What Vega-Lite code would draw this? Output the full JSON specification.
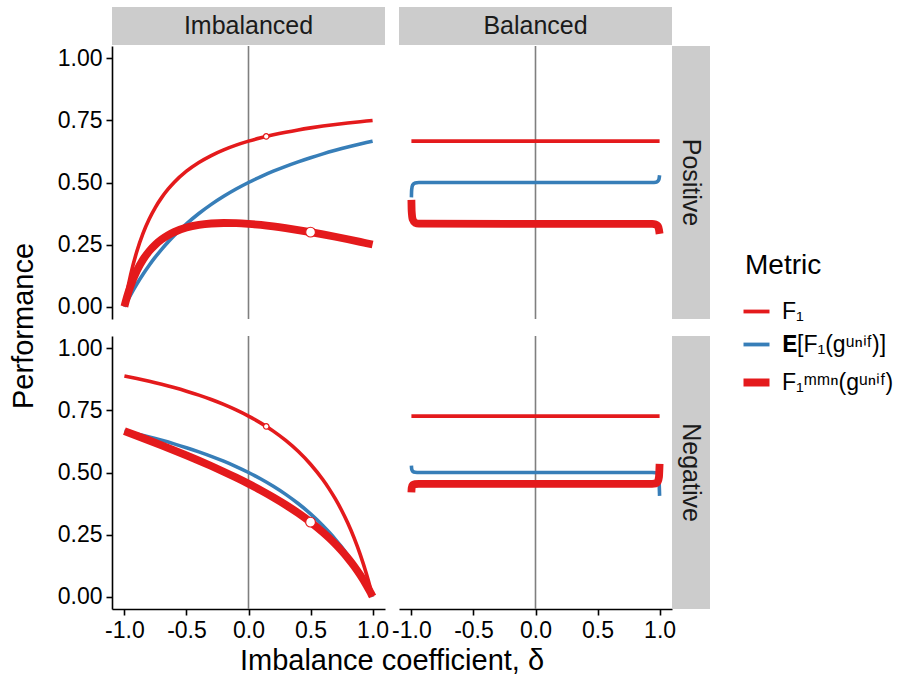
{
"$schema": "https://vega.github.io/schema/vega-lite/v6.json",
"padding": {"left": 5, "top": 7, "right": 5, "bottom": 5},
"background": "white",
"datasets": {
"imb_pos": [
{"d":-1,"m":"F1","v":0},{"d":-1,"m":"E_F1_unif","v":0},{"d":-1,"m":"F1_mmn_unif","v":0},
{"d":-0.99,"m":"F1","v":0.029},{"d":-0.99,"m":"E_F1_unif","v":0.0099},{"d":-0.99,"m":"F1_mmn_unif","v":0.0193},
{"d":-0.98,"m":"F1","v":0.0561},{"d":-0.98,"m":"E_F1_unif","v":0.0196},{"d":-0.98,"m":"F1_mmn_unif","v":0.0372},
{"d":-0.95,"m":"F1","v":0.1277},{"d":-0.95,"m":"E_F1_unif","v":0.0476},{"d":-0.95,"m":"F1_mmn_unif","v":0.084},
{"d":-0.9,"m":"F1","v":0.2222},{"d":-0.9,"m":"E_F1_unif","v":0.0909},{"d":-0.9,"m":"F1_mmn_unif","v":0.1444},
{"d":-0.85,"m":"F1","v":0.2951},{"d":-0.85,"m":"E_F1_unif","v":0.1304},{"d":-0.85,"m":"F1_mmn_unif","v":0.1893},
{"d":-0.8,"m":"F1","v":0.3529},{"d":-0.8,"m":"E_F1_unif","v":0.1667},{"d":-0.8,"m":"F1_mmn_unif","v":0.2235},
{"d":-0.75,"m":"F1","v":0.4},{"d":-0.75,"m":"E_F1_unif","v":0.2},{"d":-0.75,"m":"F1_mmn_unif","v":0.25},
{"d":-0.7,"m":"F1","v":0.439},{"d":-0.7,"m":"E_F1_unif","v":0.2308},{"d":-0.7,"m":"F1_mmn_unif","v":0.2707},
{"d":-0.65,"m":"F1","v":0.4719},{"d":-0.65,"m":"E_F1_unif","v":0.2593},{"d":-0.65,"m":"F1_mmn_unif","v":0.287},
{"d":-0.6,"m":"F1","v":0.5},{"d":-0.6,"m":"E_F1_unif","v":0.2857},{"d":-0.6,"m":"F1_mmn_unif","v":0.3},
{"d":-0.5,"m":"F1","v":0.5455},{"d":-0.5,"m":"E_F1_unif","v":0.3333},{"d":-0.5,"m":"F1_mmn_unif","v":0.3182},
{"d":-0.4,"m":"F1","v":0.5806},{"d":-0.4,"m":"E_F1_unif","v":0.375},{"d":-0.4,"m":"F1_mmn_unif","v":0.329},
{"d":-0.3,"m":"F1","v":0.6087},{"d":-0.3,"m":"E_F1_unif","v":0.4118},{"d":-0.3,"m":"F1_mmn_unif","v":0.3348},
{"d":-0.2,"m":"F1","v":0.6316},{"d":-0.2,"m":"E_F1_unif","v":0.4444},{"d":-0.2,"m":"F1_mmn_unif","v":0.3368},
{"d":-0.1,"m":"F1","v":0.6506},{"d":-0.1,"m":"E_F1_unif","v":0.4737},{"d":-0.1,"m":"F1_mmn_unif","v":0.3361},
{"d":0,"m":"F1","v":0.6667},{"d":0,"m":"E_F1_unif","v":0.5},{"d":0,"m":"F1_mmn_unif","v":0.3333},
{"d":0.1,"m":"F1","v":0.6804},{"d":0.1,"m":"E_F1_unif","v":0.5238},{"d":0.1,"m":"F1_mmn_unif","v":0.3289},
{"d":0.2,"m":"F1","v":0.6923},{"d":0.2,"m":"E_F1_unif","v":0.5455},{"d":0.2,"m":"F1_mmn_unif","v":0.3231},
{"d":0.3,"m":"F1","v":0.7027},{"d":0.3,"m":"E_F1_unif","v":0.5652},{"d":0.3,"m":"F1_mmn_unif","v":0.3162},
{"d":0.4,"m":"F1","v":0.7119},{"d":0.4,"m":"E_F1_unif","v":0.5833},{"d":0.4,"m":"F1_mmn_unif","v":0.3085},
{"d":0.5,"m":"F1","v":0.72},{"d":0.5,"m":"E_F1_unif","v":0.6},{"d":0.5,"m":"F1_mmn_unif","v":0.3},
{"d":0.6,"m":"F1","v":0.7273},{"d":0.6,"m":"E_F1_unif","v":0.6154},{"d":0.6,"m":"F1_mmn_unif","v":0.2909},
{"d":0.7,"m":"F1","v":0.7338},{"d":0.7,"m":"E_F1_unif","v":0.6296},{"d":0.7,"m":"F1_mmn_unif","v":0.2813},
{"d":0.8,"m":"F1","v":0.7397},{"d":0.8,"m":"E_F1_unif","v":0.6429},{"d":0.8,"m":"F1_mmn_unif","v":0.2712},
{"d":0.9,"m":"F1","v":0.7451},{"d":0.9,"m":"E_F1_unif","v":0.6552},{"d":0.9,"m":"F1_mmn_unif","v":0.2608},
{"d":0.95,"m":"F1","v":0.7476},{"d":0.95,"m":"E_F1_unif","v":0.661},{"d":0.95,"m":"F1_mmn_unif","v":0.2554},
{"d":1,"m":"F1","v":0.75},{"d":1,"m":"E_F1_unif","v":0.6667},{"d":1,"m":"F1_mmn_unif","v":0.25}
],
"imb_neg": [
{"d":-1,"m":"F1","v":0.8889},{"d":-1,"m":"E_F1_unif","v":0.6667},{"d":-1,"m":"F1_mmn_unif","v":0.6667},
{"d":-0.9,"m":"F1","v":0.8786},{"d":-0.9,"m":"E_F1_unif","v":0.6552},{"d":-0.9,"m":"F1_mmn_unif","v":0.648},
{"d":-0.8,"m":"F1","v":0.8675},{"d":-0.8,"m":"E_F1_unif","v":0.6429},{"d":-0.8,"m":"F1_mmn_unif","v":0.6289},
{"d":-0.7,"m":"F1","v":0.8553},{"d":-0.7,"m":"E_F1_unif","v":0.6296},{"d":-0.7,"m":"F1_mmn_unif","v":0.6094},
{"d":-0.6,"m":"F1","v":0.8421},{"d":-0.6,"m":"E_F1_unif","v":0.6154},{"d":-0.6,"m":"F1_mmn_unif","v":0.5895},
{"d":-0.5,"m":"F1","v":0.8276},{"d":-0.5,"m":"E_F1_unif","v":0.6},{"d":-0.5,"m":"F1_mmn_unif","v":0.569},
{"d":-0.4,"m":"F1","v":0.8116},{"d":-0.4,"m":"E_F1_unif","v":0.5833},{"d":-0.4,"m":"F1_mmn_unif","v":0.5478},
{"d":-0.3,"m":"F1","v":0.7939},{"d":-0.3,"m":"E_F1_unif","v":0.5652},{"d":-0.3,"m":"F1_mmn_unif","v":0.526},
{"d":-0.2,"m":"F1","v":0.7742},{"d":-0.2,"m":"E_F1_unif","v":0.5455},{"d":-0.2,"m":"F1_mmn_unif","v":0.5032},
{"d":-0.1,"m":"F1","v":0.7521},{"d":-0.1,"m":"E_F1_unif","v":0.5238},{"d":-0.1,"m":"F1_mmn_unif","v":0.4795},
{"d":0,"m":"F1","v":0.7273},{"d":0,"m":"E_F1_unif","v":0.5},{"d":0,"m":"F1_mmn_unif","v":0.4545},
{"d":0.1,"m":"F1","v":0.699},{"d":0.1,"m":"E_F1_unif","v":0.4737},{"d":0.1,"m":"F1_mmn_unif","v":0.4282},
{"d":0.2,"m":"F1","v":0.6667},{"d":0.2,"m":"E_F1_unif","v":0.4444},{"d":0.2,"m":"F1_mmn_unif","v":0.4},
{"d":0.3,"m":"F1","v":0.6292},{"d":0.3,"m":"E_F1_unif","v":0.4118},{"d":0.3,"m":"F1_mmn_unif","v":0.3697},
{"d":0.4,"m":"F1","v":0.5854},{"d":0.4,"m":"E_F1_unif","v":0.375},{"d":0.4,"m":"F1_mmn_unif","v":0.3366},
{"d":0.5,"m":"F1","v":0.5333},{"d":0.5,"m":"E_F1_unif","v":0.3333},{"d":0.5,"m":"F1_mmn_unif","v":0.3},
{"d":0.6,"m":"F1","v":0.4706},{"d":0.6,"m":"E_F1_unif","v":0.2857},{"d":0.6,"m":"F1_mmn_unif","v":0.2588},
{"d":0.65,"m":"F1","v":0.4341},{"d":0.65,"m":"E_F1_unif","v":0.2593},{"d":0.65,"m":"F1_mmn_unif","v":0.236},
{"d":0.7,"m":"F1","v":0.3934},{"d":0.7,"m":"E_F1_unif","v":0.2308},{"d":0.7,"m":"F1_mmn_unif","v":0.2115},
{"d":0.75,"m":"F1","v":0.3478},{"d":0.75,"m":"E_F1_unif","v":0.2},{"d":0.75,"m":"F1_mmn_unif","v":0.1848},
{"d":0.8,"m":"F1","v":0.2963},{"d":0.8,"m":"E_F1_unif","v":0.1667},{"d":0.8,"m":"F1_mmn_unif","v":0.1556},
{"d":0.85,"m":"F1","v":0.2376},{"d":0.85,"m":"E_F1_unif","v":0.1304},{"d":0.85,"m":"F1_mmn_unif","v":0.1233},
{"d":0.9,"m":"F1","v":0.1702},{"d":0.9,"m":"E_F1_unif","v":0.0909},{"d":0.9,"m":"F1_mmn_unif","v":0.0872},
{"d":0.95,"m":"F1","v":0.092},{"d":0.95,"m":"E_F1_unif","v":0.0476},{"d":0.95,"m":"F1_mmn_unif","v":0.0466},
{"d":0.98,"m":"F1","v":0.0387},{"d":0.98,"m":"E_F1_unif","v":0.0196},{"d":0.98,"m":"F1_mmn_unif","v":0.0194},
{"d":0.99,"m":"F1","v":0.0197},{"d":0.99,"m":"E_F1_unif","v":0.0099},{"d":0.99,"m":"F1_mmn_unif","v":0.0099},
{"d":1,"m":"F1","v":0},{"d":1,"m":"E_F1_unif","v":0},{"d":1,"m":"F1_mmn_unif","v":0}
],
"bal_pos": [
{"d":-1,"m":"F1","v":0.6667},{"d":1,"m":"F1","v":0.6667},
{"d":-1,"m":"E_F1_unif","v":0.44},{"d":-0.998,"m":"E_F1_unif","v":0.47},{"d":-0.99,"m":"E_F1_unif","v":0.49},{"d":-0.97,"m":"E_F1_unif","v":0.498},{"d":-0.94,"m":"E_F1_unif","v":0.5},{"d":0.94,"m":"E_F1_unif","v":0.5},{"d":0.97,"m":"E_F1_unif","v":0.501},{"d":0.985,"m":"E_F1_unif","v":0.505},{"d":0.995,"m":"E_F1_unif","v":0.513},{"d":1,"m":"E_F1_unif","v":0.529},
{"d":-1,"m":"F1_mmn_unif","v":0.43},{"d":-0.998,"m":"F1_mmn_unif","v":0.385},{"d":-0.99,"m":"F1_mmn_unif","v":0.352},{"d":-0.97,"m":"F1_mmn_unif","v":0.338},{"d":-0.94,"m":"F1_mmn_unif","v":0.334},{"d":0.94,"m":"F1_mmn_unif","v":0.333},{"d":0.97,"m":"F1_mmn_unif","v":0.331},{"d":0.985,"m":"F1_mmn_unif","v":0.325},{"d":0.995,"m":"F1_mmn_unif","v":0.31},{"d":1,"m":"F1_mmn_unif","v":0.293}
],
"bal_neg": [
{"d":-1,"m":"F1","v":0.7273},{"d":1,"m":"F1","v":0.7273},
{"d":-1,"m":"E_F1_unif","v":0.528},{"d":-0.998,"m":"E_F1_unif","v":0.515},{"d":-0.99,"m":"E_F1_unif","v":0.505},{"d":-0.97,"m":"E_F1_unif","v":0.501},{"d":-0.94,"m":"E_F1_unif","v":0.5},{"d":0.94,"m":"E_F1_unif","v":0.5},{"d":0.97,"m":"E_F1_unif","v":0.499},{"d":0.985,"m":"E_F1_unif","v":0.493},{"d":0.995,"m":"E_F1_unif","v":0.47},{"d":1,"m":"E_F1_unif","v":0.406},
{"d":-1,"m":"F1_mmn_unif","v":0.42},{"d":-0.998,"m":"F1_mmn_unif","v":0.437},{"d":-0.99,"m":"F1_mmn_unif","v":0.449},{"d":-0.97,"m":"F1_mmn_unif","v":0.453},{"d":-0.94,"m":"F1_mmn_unif","v":0.4545},{"d":0.94,"m":"F1_mmn_unif","v":0.4545},{"d":0.97,"m":"F1_mmn_unif","v":0.456},{"d":0.985,"m":"F1_mmn_unif","v":0.463},{"d":0.995,"m":"F1_mmn_unif","v":0.482},{"d":1,"m":"F1_mmn_unif","v":0.535}
]
},
"spacing": 14,
"hconcat": [
{"width": 38, "height": 638, "data": {"values": [{"t": "Performance"}]},
 "mark": {"type": "text", "angle": 270, "fontSize": 29, "font": "Liberation Sans", "color": "black"},
 "encoding": {"text": {"field": "t", "type": "nominal"}}},
{"spacing": 12, "vconcat": [
 {"spacing": 0, "vconcat": [
  {"spacing": 14, "hconcat": [
   {"width": 273, "height": 38, "view": {"fill": "#cccccc", "stroke": null}, "data": {"values": [{"t": "Imbalanced"}]},
    "mark": {"type": "text", "fontSize": 25, "font": "Liberation Sans", "color": "#1a1a1a"},
    "encoding": {"text": {"field": "t", "type": "nominal"}}},
   {"width": 273, "height": 38, "view": {"fill": "#cccccc", "stroke": null}, "data": {"values": [{"t": "Balanced"}]},
    "mark": {"type": "text", "fontSize": 25, "font": "Liberation Sans", "color": "#1a1a1a"},
    "encoding": {"text": {"field": "t", "type": "nominal"}}}
  ]},
  {"spacing": 14, "bounds": "flush", "hconcat": [
   {"width": 273, "height": 273, "data": {"name": "imb_pos"}, "layer": [
    {"data": {"values": [{"d": 0}]}, "mark": {"type": "rule", "color": "#7f7f7f", "strokeWidth": 1.6},
     "encoding": {"x": {"field": "d", "type": "quantitative", "scale": {"domain": [-1.1, 1.1], "nice": false, "zero": false}, "axis": null}}},
    {"transform": [{"filter": "datum.m == 'F1'"}], "mark": {"type": "line", "strokeWidth": 3.6, "interpolate": "monotone"},
     "encoding": {"x": {"field": "d", "type": "quantitative", "scale": {"domain": [-1.1, 1.1], "nice": false, "zero": false}, "axis": null},
      "y": {"field": "v", "type": "quantitative", "scale": {"domain": [-0.05, 1.05], "nice": false, "zero": false}, "axis": {"values": [0, 0.25, 0.5, 0.75, 1], "format": ".2f", "title": null}},
      "color": {"field": "m", "type": "nominal", "scale": {"domain": ["F1", "E_F1_unif", "F1_mmn_unif"], "range": ["#E41A1C", "#377EB8", "#E41A1C"]},
       "legend": {"title": "Metric", "orient": "none", "legendX": 740, "legendY": 245, "padding": 0,
        "titleFontSize": 28, "titleFontWeight": "normal", "titleColor": "black", "titleFont": "Liberation Sans", "titlePadding": 20,
        "labelFontSize": 23, "labelFont": "Liberation Sans", "labelColor": "black", "labelOffset": 14,
        "symbolType": "stroke", "symbolSize": 676, "symbolStrokeWidth": 3.8, "rowPadding": 9,
        "labelExpr": "datum.label == 'F1' ? 'F₁' : datum.label == 'E_F1_unif' ? '𝐄[F₁(gᵘⁿⁱᶠ)]' : 'F₁ᵐᵐⁿ(gᵘⁿⁱᶠ)'",
        "encode": {"symbols": {"update": {"strokeWidth": {"signal": "datum.value == 'F1_mmn_unif' ? 8 : 3.8"}}}}}}}},
    {"transform": [{"filter": "datum.m == 'E_F1_unif'"}], "mark": {"type": "line", "strokeWidth": 3.6, "interpolate": "monotone"},
     "encoding": {"x": {"field": "d", "type": "quantitative", "scale": {"domain": [-1.1, 1.1], "nice": false, "zero": false}, "axis": null},
      "y": {"field": "v", "type": "quantitative", "scale": {"domain": [-0.05, 1.05], "nice": false, "zero": false}, "axis": {"values": [0, 0.25, 0.5, 0.75, 1], "format": ".2f", "title": null}},
      "color": {"field": "m", "type": "nominal", "scale": {"domain": ["F1", "E_F1_unif", "F1_mmn_unif"], "range": ["#E41A1C", "#377EB8", "#E41A1C"]}, "legend": null}}},
    {"transform": [{"filter": "datum.m == 'F1_mmn_unif'"}], "mark": {"type": "line", "strokeWidth": 7.8, "interpolate": "monotone"},
     "encoding": {"x": {"field": "d", "type": "quantitative", "scale": {"domain": [-1.1, 1.1], "nice": false, "zero": false}, "axis": null},
      "y": {"field": "v", "type": "quantitative", "scale": {"domain": [-0.05, 1.05], "nice": false, "zero": false}, "axis": {"values": [0, 0.25, 0.5, 0.75, 1], "format": ".2f", "title": null}},
      "color": {"field": "m", "type": "nominal", "scale": {"domain": ["F1", "E_F1_unif", "F1_mmn_unif"], "range": ["#E41A1C", "#377EB8", "#E41A1C"]}, "legend": null}}},
    {"data": {"values": [{"d": 0.1429, "v": 0.6857}]}, "mark": {"type": "circle", "fill": "white", "stroke": "#E41A1C", "strokeWidth": 1.2, "size": 30, "opacity": 1},
     "encoding": {"x": {"field": "d", "type": "quantitative", "axis": null}, "y": {"field": "v", "type": "quantitative", "axis": {"values": [0, 0.25, 0.5, 0.75, 1], "format": ".2f", "title": null}}}},
    {"data": {"values": [{"d": 0.5, "v": 0.3}]}, "mark": {"type": "circle", "fill": "white", "stroke": "#E41A1C", "strokeWidth": 1.2, "size": 95, "opacity": 1},
     "encoding": {"x": {"field": "d", "type": "quantitative", "axis": null}, "y": {"field": "v", "type": "quantitative", "axis": {"values": [0, 0.25, 0.5, 0.75, 1], "format": ".2f", "title": null}}}}
   ]},
   {"spacing": 0, "bounds": "flush", "hconcat": [
    {"width": 273, "height": 273, "data": {"name": "bal_pos"}, "layer": [
     {"data": {"values": [{"d": 0}]}, "mark": {"type": "rule", "color": "#7f7f7f", "strokeWidth": 1.6},
      "encoding": {"x": {"field": "d", "type": "quantitative", "scale": {"domain": [-1.1, 1.1], "nice": false, "zero": false}, "axis": null}}},
     {"transform": [{"filter": "datum.m == 'F1'"}], "mark": {"type": "line", "strokeWidth": 3.6},
      "encoding": {"x": {"field": "d", "type": "quantitative", "scale": {"domain": [-1.1, 1.1], "nice": false, "zero": false}, "axis": null},
       "y": {"field": "v", "type": "quantitative", "scale": {"domain": [-0.05, 1.05], "nice": false, "zero": false}, "axis": null},
       "color": {"field": "m", "type": "nominal", "scale": {"domain": ["F1", "E_F1_unif", "F1_mmn_unif"], "range": ["#E41A1C", "#377EB8", "#E41A1C"]}, "legend": null}}},
     {"transform": [{"filter": "datum.m == 'E_F1_unif'"}], "mark": {"type": "line", "strokeWidth": 3.6, "interpolate": "monotone"},
      "encoding": {"x": {"field": "d", "type": "quantitative", "scale": {"domain": [-1.1, 1.1], "nice": false, "zero": false}, "axis": null},
       "y": {"field": "v", "type": "quantitative", "scale": {"domain": [-0.05, 1.05], "nice": false, "zero": false}, "axis": null},
       "color": {"field": "m", "type": "nominal", "scale": {"domain": ["F1", "E_F1_unif", "F1_mmn_unif"], "range": ["#E41A1C", "#377EB8", "#E41A1C"]}, "legend": null}}},
     {"transform": [{"filter": "datum.m == 'F1_mmn_unif'"}], "mark": {"type": "line", "strokeWidth": 7.8, "interpolate": "monotone"},
      "encoding": {"x": {"field": "d", "type": "quantitative", "scale": {"domain": [-1.1, 1.1], "nice": false, "zero": false}, "axis": null},
       "y": {"field": "v", "type": "quantitative", "scale": {"domain": [-0.05, 1.05], "nice": false, "zero": false}, "axis": null},
       "color": {"field": "m", "type": "nominal", "scale": {"domain": ["F1", "E_F1_unif", "F1_mmn_unif"], "range": ["#E41A1C", "#377EB8", "#E41A1C"]}, "legend": null}}}
    ]},
    {"width": 38, "height": 273, "view": {"fill": "#cccccc", "stroke": null}, "data": {"values": [{"t": "Positive"}]},
     "mark": {"type": "text", "angle": 90, "fontSize": 25, "font": "Liberation Sans", "color": "#1a1a1a"},
     "encoding": {"text": {"field": "t", "type": "nominal"}}}
   ]}
  ]}
 ]},
 {"spacing": 2, "vconcat": [
  {"spacing": 14, "bounds": "flush", "hconcat": [
   {"width": 273, "height": 273, "data": {"name": "imb_neg"}, "layer": [
    {"data": {"values": [{"d": 0}]}, "mark": {"type": "rule", "color": "#7f7f7f", "strokeWidth": 1.6},
     "encoding": {"x": {"field": "d", "type": "quantitative", "scale": {"domain": [-1.1, 1.1], "nice": false, "zero": false}, "axis": {"values": [-1, -0.5, 0, 0.5, 1], "format": ".1f", "title": null}}}},
    {"transform": [{"filter": "datum.m == 'F1'"}], "mark": {"type": "line", "strokeWidth": 3.6, "interpolate": "monotone"},
     "encoding": {"x": {"field": "d", "type": "quantitative", "scale": {"domain": [-1.1, 1.1], "nice": false, "zero": false}, "axis": {"values": [-1, -0.5, 0, 0.5, 1], "format": ".1f", "title": null}},
      "y": {"field": "v", "type": "quantitative", "scale": {"domain": [-0.05, 1.05], "nice": false, "zero": false}, "axis": {"values": [0, 0.25, 0.5, 0.75, 1], "format": ".2f", "title": null}},
      "color": {"field": "m", "type": "nominal", "scale": {"domain": ["F1", "E_F1_unif", "F1_mmn_unif"], "range": ["#E41A1C", "#377EB8", "#E41A1C"]}, "legend": null}}},
    {"transform": [{"filter": "datum.m == 'E_F1_unif'"}], "mark": {"type": "line", "strokeWidth": 3.6, "interpolate": "monotone"},
     "encoding": {"x": {"field": "d", "type": "quantitative", "scale": {"domain": [-1.1, 1.1], "nice": false, "zero": false}, "axis": {"values": [-1, -0.5, 0, 0.5, 1], "format": ".1f", "title": null}},
      "y": {"field": "v", "type": "quantitative", "scale": {"domain": [-0.05, 1.05], "nice": false, "zero": false}, "axis": {"values": [0, 0.25, 0.5, 0.75, 1], "format": ".2f", "title": null}},
      "color": {"field": "m", "type": "nominal", "scale": {"domain": ["F1", "E_F1_unif", "F1_mmn_unif"], "range": ["#E41A1C", "#377EB8", "#E41A1C"]}, "legend": null}}},
    {"transform": [{"filter": "datum.m == 'F1_mmn_unif'"}], "mark": {"type": "line", "strokeWidth": 7.8, "interpolate": "monotone"},
     "encoding": {"x": {"field": "d", "type": "quantitative", "scale": {"domain": [-1.1, 1.1], "nice": false, "zero": false}, "axis": {"values": [-1, -0.5, 0, 0.5, 1], "format": ".1f", "title": null}},
      "y": {"field": "v", "type": "quantitative", "scale": {"domain": [-0.05, 1.05], "nice": false, "zero": false}, "axis": {"values": [0, 0.25, 0.5, 0.75, 1], "format": ".2f", "title": null}},
      "color": {"field": "m", "type": "nominal", "scale": {"domain": ["F1", "E_F1_unif", "F1_mmn_unif"], "range": ["#E41A1C", "#377EB8", "#E41A1C"]}, "legend": null}}},
    {"data": {"values": [{"d": 0.1429, "v": 0.6857}]}, "mark": {"type": "circle", "fill": "white", "stroke": "#E41A1C", "strokeWidth": 1.2, "size": 30, "opacity": 1},
     "encoding": {"x": {"field": "d", "type": "quantitative", "axis": {"values": [-1, -0.5, 0, 0.5, 1], "format": ".1f", "title": null}}, "y": {"field": "v", "type": "quantitative", "axis": {"values": [0, 0.25, 0.5, 0.75, 1], "format": ".2f", "title": null}}}},
    {"data": {"values": [{"d": 0.5, "v": 0.3}]}, "mark": {"type": "circle", "fill": "white", "stroke": "#E41A1C", "strokeWidth": 1.2, "size": 95, "opacity": 1},
     "encoding": {"x": {"field": "d", "type": "quantitative", "axis": {"values": [-1, -0.5, 0, 0.5, 1], "format": ".1f", "title": null}}, "y": {"field": "v", "type": "quantitative", "axis": {"values": [0, 0.25, 0.5, 0.75, 1], "format": ".2f", "title": null}}}}
   ]},
   {"spacing": 0, "bounds": "flush", "hconcat": [
    {"width": 273, "height": 273, "data": {"name": "bal_neg"}, "layer": [
     {"data": {"values": [{"d": 0}]}, "mark": {"type": "rule", "color": "#7f7f7f", "strokeWidth": 1.6},
      "encoding": {"x": {"field": "d", "type": "quantitative", "scale": {"domain": [-1.1, 1.1], "nice": false, "zero": false}, "axis": {"values": [-1, -0.5, 0, 0.5, 1], "format": ".1f", "title": null}}}},
     {"transform": [{"filter": "datum.m == 'F1'"}], "mark": {"type": "line", "strokeWidth": 3.6},
      "encoding": {"x": {"field": "d", "type": "quantitative", "scale": {"domain": [-1.1, 1.1], "nice": false, "zero": false}, "axis": {"values": [-1, -0.5, 0, 0.5, 1], "format": ".1f", "title": null}},
       "y": {"field": "v", "type": "quantitative", "scale": {"domain": [-0.05, 1.05], "nice": false, "zero": false}, "axis": null},
       "color": {"field": "m", "type": "nominal", "scale": {"domain": ["F1", "E_F1_unif", "F1_mmn_unif"], "range": ["#E41A1C", "#377EB8", "#E41A1C"]}, "legend": null}}},
     {"transform": [{"filter": "datum.m == 'E_F1_unif'"}], "mark": {"type": "line", "strokeWidth": 3.6, "interpolate": "monotone"},
      "encoding": {"x": {"field": "d", "type": "quantitative", "scale": {"domain": [-1.1, 1.1], "nice": false, "zero": false}, "axis": {"values": [-1, -0.5, 0, 0.5, 1], "format": ".1f", "title": null}},
       "y": {"field": "v", "type": "quantitative", "scale": {"domain": [-0.05, 1.05], "nice": false, "zero": false}, "axis": null},
       "color": {"field": "m", "type": "nominal", "scale": {"domain": ["F1", "E_F1_unif", "F1_mmn_unif"], "range": ["#E41A1C", "#377EB8", "#E41A1C"]}, "legend": null}}},
     {"transform": [{"filter": "datum.m == 'F1_mmn_unif'"}], "mark": {"type": "line", "strokeWidth": 7.8, "interpolate": "monotone"},
      "encoding": {"x": {"field": "d", "type": "quantitative", "scale": {"domain": [-1.1, 1.1], "nice": false, "zero": false}, "axis": {"values": [-1, -0.5, 0, 0.5, 1], "format": ".1f", "title": null}},
       "y": {"field": "v", "type": "quantitative", "scale": {"domain": [-0.05, 1.05], "nice": false, "zero": false}, "axis": null},
       "color": {"field": "m", "type": "nominal", "scale": {"domain": ["F1", "E_F1_unif", "F1_mmn_unif"], "range": ["#E41A1C", "#377EB8", "#E41A1C"]}, "legend": null}}}
    ]},
    {"width": 38, "height": 273, "view": {"fill": "#cccccc", "stroke": null}, "data": {"values": [{"t": "Negative"}]},
     "mark": {"type": "text", "angle": 90, "fontSize": 25, "font": "Liberation Sans", "color": "#1a1a1a"},
     "encoding": {"text": {"field": "t", "type": "nominal"}}}
   ]}
  ]},
  {"width": 560, "height": 34, "data": {"values": [{"t": "Imbalance coefficient, δ"}]},
   "mark": {"type": "text", "fontSize": 29, "font": "Liberation Sans", "color": "black"},
   "encoding": {"text": {"field": "t", "type": "nominal"}}}
 ]}
]}
],
"config": {
 "view": {"stroke": null},
 "font": "Liberation Sans",
 "locale": {"number": {"decimal": ".", "thousands": ",", "grouping": [3], "currency": ["$", ""], "minus": "-"}},
 "axis": {"grid": false, "domainColor": "black", "domainWidth": 1.6, "tickColor": "black", "tickWidth": 1.6, "tickSize": 6,
  "labelColor": "black", "labelFontSize": 23, "labelFont": "Liberation Sans", "labelPadding": 4, "labelFlush": false, "labelOverlap": false}
}
}
